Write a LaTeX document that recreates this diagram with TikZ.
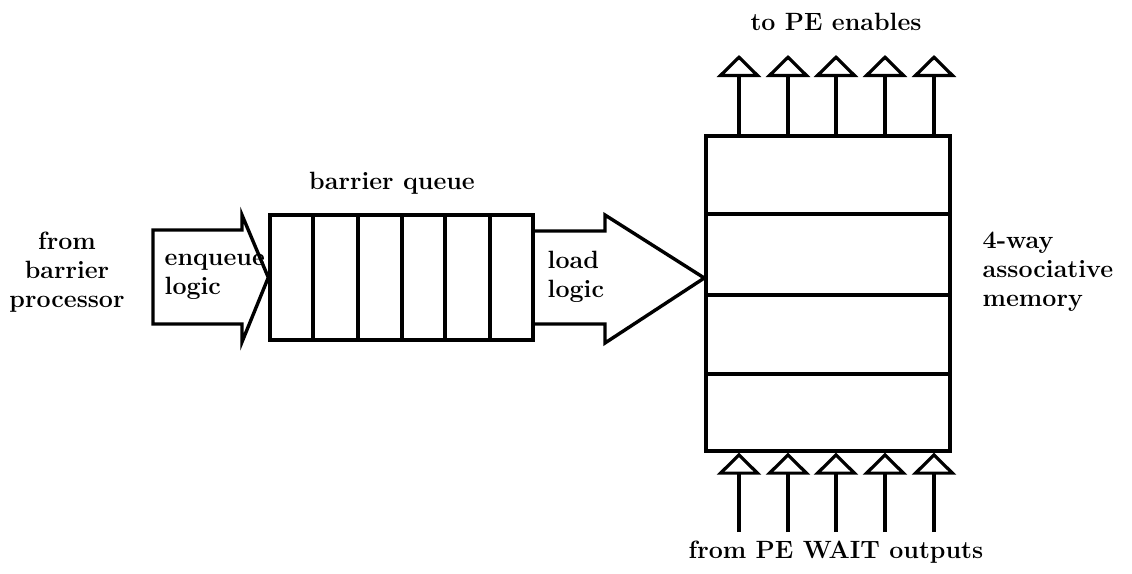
\documentclass[tikz,border=0pt]{standalone}
\usetikzlibrary{arrows.meta}
\begin{document}
\begin{tikzpicture}[x=0.5pt,y=-0.5pt,line width=1.7pt,line join=miter,
  font=\fontsize{12.5}{14.5}\selectfont\bfseries,
  lbl/.style={inner sep=0pt,align=left},
  clbl/.style={inner sep=0pt,align=center},
  box/.style={draw,inner sep=0pt},
  tip/.style={-{Triangle[open,width=22pt,length=11pt,line width=1.6pt]}}]
\useasboundingbox (0,0) rectangle (1132,574);
% barrier queue
\node[box,minimum width=131.5pt,minimum height=62.5pt] (q) at (401.5,277.5) {};
\foreach \x in {313,358,402,445,490} \draw (q.north -| \x,0) -- (q.south -| \x,0);
% associative memory
\node[box,minimum width=122pt,minimum height=157.5pt] (mem) at (828,293.5) {};
\foreach \y in {214,295,374} \draw (mem.west |- 0,\y) -- (mem.east |- 0,\y);
% enqueue block arrow
\draw (153,230) -- (242,230) -- (242,215) -- (q.west) -- (242,342) -- (242,324) -- (153,324) -- cycle;
% load block arrow
\draw (q.east |- 0,231) -- (605,231) -- (605,215) -- (mem.west |- 0,278) -- (605,343) -- (605,324) -- (q.east |- 0,324);
% PE arrows
\foreach \x [count=\i] in {739,788,836,885,934} {
  \coordinate (t\i) at (\x,55);
  \coordinate (b\i) at (\x,532);
  \draw[tip] (mem.north -| t\i) -- (t\i);
  \draw[tip] (b\i) -- (mem.south -| b\i);
}
% labels
\node[clbl] (lpe) at (836,22) {to PE enables};
\node[clbl] (lq) at (392,183) {barrier queue};
\node[clbl] (lbp) at (67,272) {from\\barrier\\processor};
\node[lbl,anchor=west] (lenq) at (163,277) {enqueue\\logic};
\node[lbl,anchor=west] (lload) at (546,277) {load\\logic};
\node[lbl,anchor=west] (lmem) at (981,272) {4-way\\associative\\memory};
\node[clbl] (lwait) at (836,552) {from PE WAIT outputs};
\end{tikzpicture}
\end{document}
